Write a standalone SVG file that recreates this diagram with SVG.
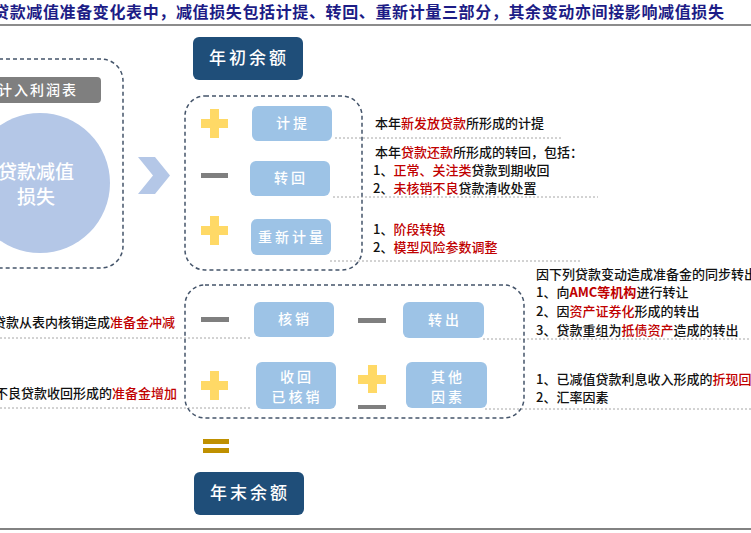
<svg xmlns="http://www.w3.org/2000/svg" width="751" height="533" viewBox="0 0 751 533">
<style>
text{font-family:"Noto Sans CJK SC","Noto Sans",sans-serif;}
.t{font-size:13px;fill:#111;font-weight:500;}
.r{fill:#c00000;}
.nb{fill:#9dc3e6;}
.nt{font-size:14px;fill:#fff;text-anchor:middle;letter-spacing:3px;font-weight:500;}
.dk{fill:#1f4e79;}
.dkt{font-size:17px;fill:#fff;text-anchor:middle;letter-spacing:3px;font-weight:500;}
.dash{fill:none;stroke:#44546a;stroke-width:1.5;stroke-dasharray:4 3;}
.dot{stroke:#a6a6a6;stroke-width:1;stroke-dasharray:2 2;fill:none;}
.plus{fill:#ffd966;}
.minus{fill:#7f7f7f;}
</style>

<!-- title -->
<text x="-7" y="18" font-size="16" font-weight="bold" fill="#1c1c86" textLength="731" lengthAdjust="spacing">贷款减值准备变化表中，减值损失包括计提、转回、重新计量三部分，其余变动亦间接影响减值损失</text>
<line x1="0" y1="25" x2="751" y2="25" stroke="#8c8c8c" stroke-width="2"/>

<!-- left block -->
<g id="left">
  <rect class="dash" x="-30" y="59" width="153" height="209" rx="22"/>
  <rect x="-25" y="77" width="126" height="26" rx="4" fill="#7f7f7f"/>
  <text x="38" y="95" font-size="14" fill="#fff" text-anchor="middle" letter-spacing="2" font-weight="500">计入利润表</text>
  <circle cx="40" cy="183" r="70" fill="#b4c7e7"/>
  <text x="36" y="179" font-size="19" fill="#fff" text-anchor="middle" font-weight="500">贷款减值</text>
  <text x="36" y="204" font-size="19" fill="#fff" text-anchor="middle" font-weight="500">损失</text>
</g>
<polygon points="138,157 155,157 170,175.5 155,194 138,194 153,175.5" fill="#b4c7e7"/>

<!-- year start -->
<g id="start">
  <rect class="dk" x="193" y="37" width="110" height="43" rx="6"/>
  <text class="dkt" x="249" y="64">年初余额</text>
</g>

<!-- connectors / dotted lines -->
<g id="connectors">
  <line class="dot" x1="335" y1="138" x2="562" y2="138"/>
  <line class="dot" x1="333" y1="197" x2="598" y2="197"/>
  <line class="dot" x1="330" y1="261" x2="580" y2="261"/>
  <line class="dot" x1="0" y1="338" x2="252" y2="338"/>
  <line class="dot" x1="0" y1="408" x2="250" y2="408"/>
  <line class="dot" x1="483" y1="339" x2="751" y2="339"/>
  <line class="dot" x1="485" y1="409" x2="751" y2="409"/>
</g>

<!-- upper group -->
<rect class="dash" x="185" y="96" width="177" height="174" rx="20"/>
<g id="jiti">
  <rect class="plus" x="201" y="119" width="27" height="9"/>
  <rect class="plus" x="210" y="109" width="9" height="29"/>
  <rect class="nb" x="252" y="106" width="80" height="35" rx="6"/>
  <text class="nt" x="293" y="128">计提</text>
</g>
<g id="zhuanhui">
  <rect class="minus" x="201" y="173" width="27" height="5"/>
  <rect class="nb" x="250" y="161" width="80" height="35" rx="6"/>
  <text class="nt" x="291" y="183">转回</text>
</g>
<g id="chongxin">
  <rect class="plus" x="201" y="226" width="27" height="9"/>
  <rect class="plus" x="210" y="216" width="9" height="29"/>
  <rect class="nb" x="251" y="219" width="80" height="36" rx="6"/>
  <text class="nt" x="292" y="242">重新计量</text>
</g>

<!-- upper right texts -->
<text class="t" x="375" y="128">本年<tspan class="r">新发放贷款</tspan>所形成的计提</text>
<text class="t" x="375" y="157">本年<tspan class="r">贷款还款</tspan>所形成的转回，包括：</text>
<text class="t" x="373" y="175">1、<tspan class="r">正常、关注类</tspan>贷款到期收回</text>
<text class="t" x="373" y="193">2、<tspan class="r">未核销不良</tspan>贷款清收处置</text>
<text class="t" x="373" y="234">1、<tspan class="r">阶段转换</tspan></text>
<text class="t" x="373" y="252">2、<tspan class="r">模型风险参数调整</tspan></text>

<!-- lower group -->
<rect class="dash" x="185" y="285" width="339" height="133" rx="20"/>
<g id="hexiao">
  <rect class="minus" x="201" y="317" width="28" height="5"/>
  <rect class="nb" x="254" y="302" width="80" height="35" rx="6"/>
  <text class="nt" x="295" y="324">核销</text>
</g>
<g id="shouhui">
  <rect class="plus" x="201" y="381" width="27" height="9"/>
  <rect class="plus" x="210" y="371" width="9" height="29"/>
  <rect class="nb" x="256" y="362" width="80" height="47" rx="6"/>
  <text class="nt" x="297" y="382">收回</text>
  <text class="nt" x="297" y="402">已核销</text>
</g>
<g id="zhuanchu">
  <rect class="minus" x="358" y="318" width="28" height="5"/>
  <rect class="nb" x="403" y="302" width="81" height="36" rx="6"/>
  <text class="nt" x="445" y="325">转出</text>
</g>
<g id="qita">
  <rect class="plus" x="358" y="375" width="28" height="9"/>
  <rect class="plus" x="368" y="365" width="9" height="28"/>
  <rect class="minus" x="358" y="405" width="28" height="4"/>
  <rect class="nb" x="406" y="362" width="81" height="46" rx="6"/>
  <text class="nt" x="448" y="382">其他</text>
  <text class="nt" x="448" y="402">因素</text>
</g>

<!-- lower left texts -->
<text class="t" x="-7" y="327">贷款从表内核销造成<tspan class="r">准备金冲减</tspan></text>
<text class="t" x="-5" y="398">不良贷款收回形成的<tspan class="r">准备金增加</tspan></text>

<!-- lower right texts -->
<text class="t" x="536" y="279">因下列贷款变动造成准备金的同步转出</text>
<text class="t" x="536" y="297">1、向<tspan class="r" font-weight="bold">AMC等机构</tspan>进行转让</text>
<text class="t" x="536" y="316">2、因<tspan class="r">资产证券化</tspan>形成的转出</text>
<text class="t" x="536" y="335">3、贷款重组为<tspan class="r">抵债资产</tspan>造成的转出</text>
<text class="t" x="536" y="384">1、已减值贷款利息收入形成的<tspan class="r">折现回</tspan></text>
<text class="t" x="536" y="402">2、汇率因素</text>

<!-- equals -->
<rect x="203" y="439" width="26" height="5" fill="#bf9000"/>
<rect x="203" y="448" width="26" height="5" fill="#bf9000"/>

<g id="end">
  <rect class="dk" x="194" y="472" width="110" height="43" rx="6"/>
  <text class="dkt" x="250" y="499">年末余额</text>
</g>

<line x1="0" y1="529" x2="751" y2="529" stroke="#595959" stroke-width="1.5"/>
</svg>
